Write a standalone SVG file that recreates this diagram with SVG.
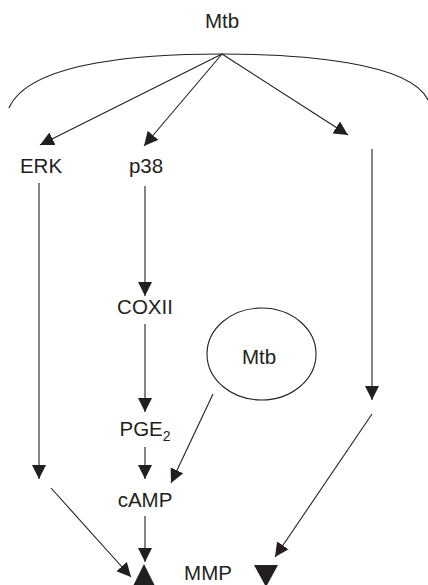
<svg xmlns="http://www.w3.org/2000/svg" width="428" height="585" viewBox="0 0 428 585">
<style>
text{font-family:"Liberation Sans",Arial,sans-serif;font-size:20.5px;fill:#231f20;text-anchor:middle}
.c{fill:none;stroke:#231f20;stroke-width:1.1}
.tri{fill:#231f20}
</style>
<defs>
<marker id="ah" markerUnits="userSpaceOnUse" markerWidth="14" markerHeight="14" viewBox="0 0 12 12" refX="12" refY="6" orient="auto">
<path d="M0,0 L12,6 L0,12 Z" fill="#231f20"/>
</marker>
</defs>
<rect width="428" height="585" fill="#fff"/>
<g id="mtb-top"><text x="222" y="28">Mtb</text></g>
<g id="arc"><path class="c" d="M9,108 C30,60 150,54 222,54 C300,54 410,62 428,100"/></g>
<g id="erk"><text x="41" y="173">ERK</text></g>
<g id="p38"><text x="146" y="173">p38</text></g>
<g id="coxii"><text x="145" y="314">COXII</text></g>
<g id="mtb-inner"><ellipse class="c" cx="261.5" cy="354" rx="54.5" ry="46"/><text x="259" y="364">Mtb</text></g>
<g id="pge2"><text x="145" y="436">PGE<tspan font-size="14" dy="5">2</tspan></text></g>
<g id="camp"><text x="145" y="507">cAMP</text></g>
<g id="mmp"><text x="208" y="580">MMP</text>
<path class="tri" d="M144,564 L131,590 L157,590 Z"/>
<path class="tri" d="M254,565 L278,565 L266,587 Z"/></g>
<g id="connectors" class="c" marker-end="url(#ah)">
<line x1="222" y1="54" x2="40" y2="145"/>
<line x1="222" y1="54" x2="144" y2="146"/>
<line x1="222" y1="54" x2="348" y2="135"/>
<line x1="39" y1="183" x2="39" y2="479"/>
<line x1="145" y1="186" x2="145" y2="296"/>
<line x1="372" y1="149" x2="372" y2="400"/>
<line x1="145" y1="324" x2="145" y2="412"/>
<line x1="145" y1="447" x2="145" y2="479"/>
<line x1="213" y1="394" x2="171" y2="483"/>
<line x1="145" y1="516" x2="145" y2="562"/>
<line x1="51" y1="488" x2="131" y2="577"/>
<line x1="372" y1="414" x2="275" y2="557"/>
</g>
</svg>
